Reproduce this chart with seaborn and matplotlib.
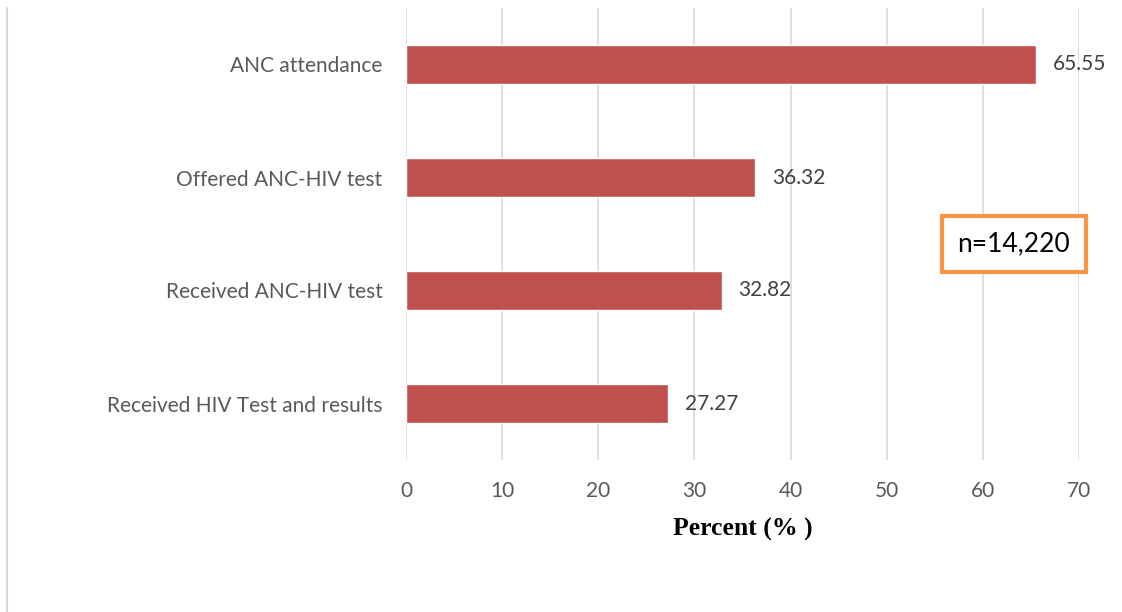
import matplotlib
matplotlib.use('Agg')
import matplotlib.pyplot as plt
import seaborn as sns
import pandas as pd
from matplotlib.lines import Line2D

# data
categories = ['ANC attendance', 'Offered ANC-HIV test', 'Received ANC-HIV test', 'Received HIV Test and results']
percent = [65.55, 36.32, 32.82, 27.27]
xticks = [0, 10, 20, 30, 40, 50, 60, 70]

df = pd.DataFrame({'cat': categories, 'pct': percent})

sns.set_style('white')
plt.rcParams['font.family'] = ['Lato', 'DejaVu Sans']

fig = plt.figure(figsize=(11.22, 6.12), dpi=100)
ax = fig.add_axes([406 / 1122, 1 - 460 / 612, (1079 - 406) / 1122, (460 - 8) / 612])

sns.barplot(data=df, x='pct', y='cat', color='#C0504D', saturation=1, width=0.34, ax=ax, zorder=3)

ax.set_xlim(0, 70)
ax.set_ylim(3.5, -0.5)
ax.set_xticks(xticks)
ax.set_xticklabels([str(t) for t in xticks])
ax.grid(axis='x', color='#D9D9D9', linewidth=1.2, zorder=0)
ax.grid(axis='y', visible=False)
for s in ax.spines.values():
    s.set_visible(False)
ax.tick_params(axis='both', length=0, labelsize=15, colors='#595959')
ax.tick_params(axis='y', pad=17)
ax.tick_params(axis='x', pad=15)
ax.set_ylabel('')
ax.set_xlabel('Percent (% )', fontsize=18.5, fontweight='bold', family='Liberation Serif', color='black', labelpad=12)

for i, v in enumerate(percent):
    ax.text(v + 1.75, i, f'{v:.2f}', va='center', ha='left', fontsize=15, color='#404040')

fig.text(1014 / 1122, 1 - 244 / 612, 'n=14,220', ha='center', va='center', fontsize=19, color='black',
         bbox=dict(boxstyle='square,pad=0.6', facecolor='white', edgecolor='#F79646', linewidth=3))

fig.add_artist(Line2D([7 / 1122, 7 / 1122], [0, 1 - 8 / 612], transform=fig.transFigure, color='#D9D9D9', linewidth=1.5))

fig.savefig('out.png', dpi=100)
